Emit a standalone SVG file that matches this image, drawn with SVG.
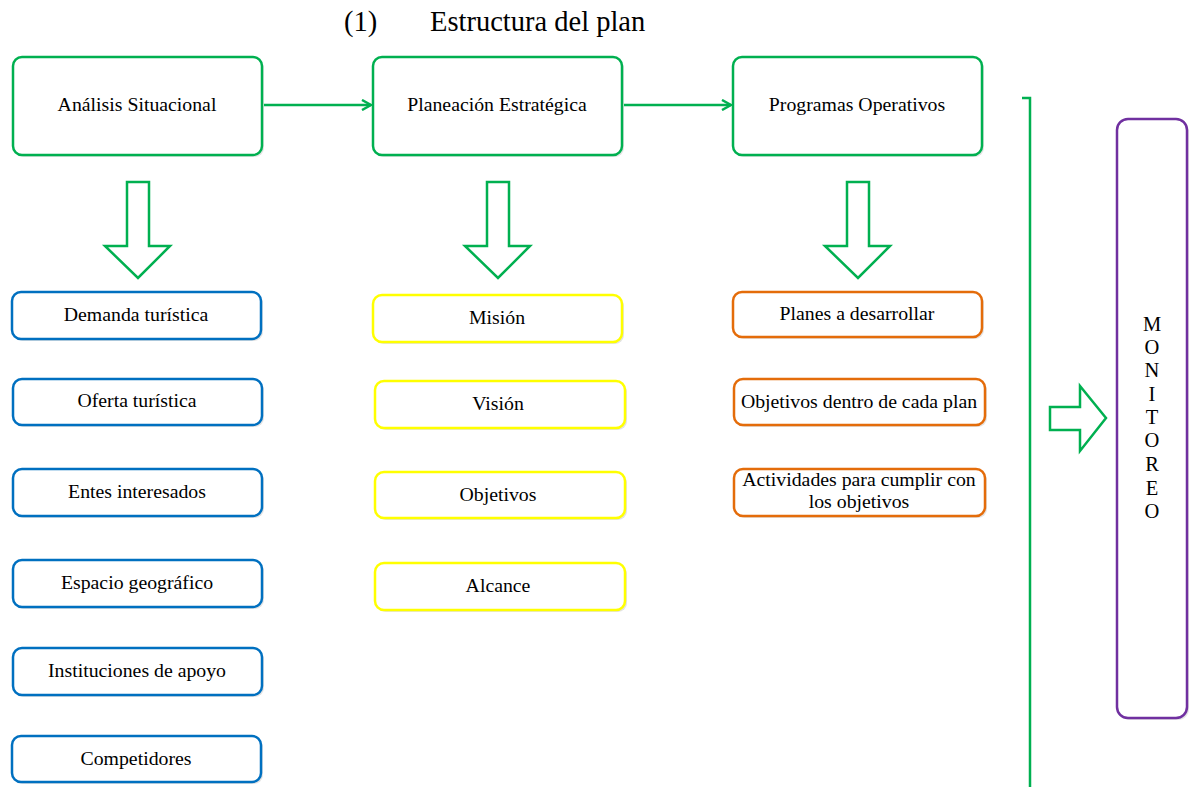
<svg xmlns="http://www.w3.org/2000/svg" width="1191" height="787" viewBox="0 0 1191 787">
<style>
text{font-family:"Liberation Serif","Times New Roman",serif;fill:#000;}
.t{font-size:19.8px;text-anchor:middle;}
.box{fill:#fff;stroke-width:2.5;}
.sh{fill:#e4e4e4;stroke:none;}
.g{stroke:#00B050;}
.b{stroke:#0070C0;}
.y{stroke:#FFFF00;}
.o{stroke:#E46C0A;}
.p{stroke:#7030A0;}
.conn{fill:none;stroke:#00B050;stroke-width:2.5;}
.blk{fill:#fff;stroke:#00B050;stroke-width:2.5;stroke-linejoin:miter;}
</style>
<defs>
<marker id="ah" markerWidth="12" markerHeight="12" refX="10" refY="6" orient="auto" markerUnits="userSpaceOnUse">
<path d="M1,1 L10,6 L1,11" fill="none" stroke="#00B050" stroke-width="2.5"/>
</marker>
</defs>
<rect width="1191" height="787" fill="#fff"/>
<g id="title">
<text x="344" y="31" style="font-size:28.5px">(1)</text>
<text x="430" y="31" style="font-size:28.5px">Estructura del plan</text>
</g>
<g id="connectors">
<line class="conn" x1="262" y1="105" x2="371" y2="105" marker-end="url(#ah)"/>
<line class="conn" x1="622" y1="105" x2="731" y2="105" marker-end="url(#ah)"/>
<polyline class="conn" points="1022,98 1030,98 1030,787"/>
<polygon class="blk" points="127,182 149,182 149,246 170,246 138,278 105,246 127,246"/>
<polygon class="blk" points="487,182 509,182 509,246 530,246 498,278 465,246 487,246"/>
<polygon class="blk" points="847,182 869,182 869,246 890,246 858,278 825,246 847,246"/>
<polygon class="blk" points="1050,407 1080,407 1080,386 1106,418 1080,451 1080,430 1050,430"/>
</g>
<g id="n-analisis"><rect class="sh" x="15" y="59" width="249" height="98" rx="9"/><rect class="box g" x="13" y="57" width="249" height="98" rx="9"/><text class="t" x="137" y="111">Análisis Situacional</text></g>
<g id="n-planeacion"><rect class="sh" x="375" y="59" width="249" height="98" rx="9"/><rect class="box g" x="373" y="57" width="249" height="98" rx="9"/><text class="t" x="497" y="111">Planeación Estratégica</text></g>
<g id="n-programas"><rect class="sh" x="735" y="59" width="249" height="98" rx="9"/><rect class="box g" x="733" y="57" width="249" height="98" rx="9"/><text class="t" x="857" y="111">Programas Operativos</text></g>

<g id="n-demanda"><rect class="sh" x="14" y="294" width="249" height="47" rx="9"/><rect class="box b" x="12" y="292" width="249" height="47" rx="9"/><text class="t" x="136" y="321">Demanda turística</text></g>
<g id="n-oferta"><rect class="sh" x="15" y="381" width="249" height="46" rx="9"/><rect class="box b" x="13" y="379" width="249" height="46" rx="9"/><text class="t" x="137" y="407">Oferta turística</text></g>
<g id="n-entes"><rect class="sh" x="15" y="471" width="249" height="47" rx="9"/><rect class="box b" x="13" y="469" width="249" height="47" rx="9"/><text class="t" x="137" y="498">Entes interesados</text></g>
<g id="n-espacio"><rect class="sh" x="15" y="562" width="249" height="47" rx="9"/><rect class="box b" x="13" y="560" width="249" height="47" rx="9"/><text class="t" x="137" y="589">Espacio geográfico</text></g>
<g id="n-instituciones"><rect class="sh" x="15" y="650" width="249" height="47" rx="9"/><rect class="box b" x="13" y="648" width="249" height="47" rx="9"/><text class="t" x="137" y="677">Instituciones de apoyo</text></g>
<g id="n-competidores"><rect class="sh" x="14" y="738" width="249" height="46" rx="9"/><rect class="box b" x="12" y="736" width="249" height="46" rx="9"/><text class="t" x="136" y="765">Competidores</text></g>

<g id="n-mision"><rect class="sh" x="375" y="297" width="249" height="47" rx="9"/><rect class="box y" x="373" y="295" width="249" height="47" rx="9"/><text class="t" x="497" y="324">Misión</text></g>
<g id="n-vision"><rect class="sh" x="377" y="383" width="250" height="47" rx="9"/><rect class="box y" x="375" y="381" width="250" height="47" rx="9"/><text class="t" x="498" y="410">Visión</text></g>
<g id="n-objetivos"><rect class="sh" x="377" y="474" width="250" height="46" rx="9"/><rect class="box y" x="375" y="472" width="250" height="46" rx="9"/><text class="t" x="498" y="501">Objetivos</text></g>
<g id="n-alcance"><rect class="sh" x="377" y="565" width="250" height="47" rx="9"/><rect class="box y" x="375" y="563" width="250" height="47" rx="9"/><text class="t" x="498" y="592">Alcance</text></g>

<g id="n-planes"><rect class="sh" x="735" y="294" width="249" height="45" rx="9"/><rect class="box o" x="733" y="292" width="249" height="45" rx="9"/><text class="t" x="857" y="320">Planes a desarrollar</text></g>
<g id="n-objplan"><rect class="sh" x="736" y="381" width="251" height="46" rx="9"/><rect class="box o" x="734" y="379" width="251" height="46" rx="9"/><text class="t" x="859" y="408">Objetivos dentro de cada plan</text></g>
<g id="n-actividades"><rect class="sh" x="736" y="471" width="251" height="47" rx="9"/><rect class="box o" x="734" y="469" width="251" height="47" rx="9"/><text class="t" x="859" y="486">Actividades para cumplir con</text><text class="t" x="859" y="508">los objetivos</text></g>

<g id="n-monitoreo"><rect class="sh" x="1119" y="121" width="70" height="599" rx="11"/><rect class="box p" x="1117" y="119" width="70" height="599" rx="11"/>
<text class="t" style="font-size:20.5px">
<tspan x="1152" y="331">M</tspan><tspan x="1152" y="354">O</tspan><tspan x="1152" y="377">N</tspan><tspan x="1152" y="401">I</tspan><tspan x="1152" y="424">T</tspan><tspan x="1152" y="447">O</tspan><tspan x="1152" y="471">R</tspan><tspan x="1152" y="495">E</tspan><tspan x="1152" y="518">O</tspan>
</text></g>
</svg>
